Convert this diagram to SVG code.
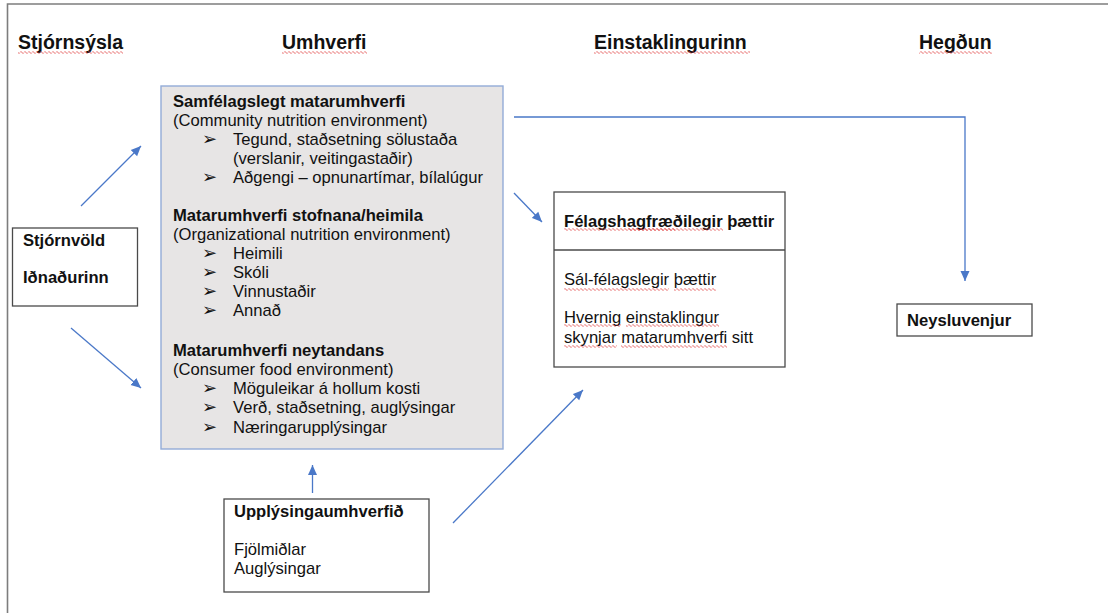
<svg xmlns="http://www.w3.org/2000/svg" width="1108" height="613" viewBox="0 0 1108 613">
<defs>
<style>
text{font-family:"Liberation Sans",Arial,Helvetica,sans-serif;fill:#111;}
.h{font-size:19.5px;font-weight:bold;}
.b{font-size:16.6px;font-weight:bold;}
.r{font-size:16.6px;}
.bl{font-family:"DejaVu Sans",sans-serif;font-size:18px;}
.box{fill:#fff;stroke:#4a4a4a;stroke-width:1.3;}
.gbox{fill:#e7e5e5;stroke:#93acd8;stroke-width:1.4;}
.con{fill:none;stroke:#4a78c8;stroke-width:1.3;}
.sp{fill:url(#wavy);}
</style>
<pattern id="wavy" patternUnits="userSpaceOnUse" width="4" height="3">
<path d="M0,1.5 L1,0.5 L3,2.5 L4,1.5" fill="none" stroke="#de3b3b" stroke-width="0.8"/>
</pattern>
<marker id="ah" markerUnits="userSpaceOnUse" markerWidth="12" markerHeight="10" refX="10" refY="5" orient="auto">
<path d="M0,0.5 L10,5 L0,9.5 Z" fill="#4a78c8"/>
</marker>
</defs>
<rect x="0" y="0" width="1108" height="613" fill="#fff"/>
<path d="M7.5,613 V4 H1108" fill="none" stroke="#7d7d7d" stroke-width="1.6"/>

<g id="headings">
<text class="h" x="18" y="49">Stjórnsýsla</text>
<rect class="sp" x="18" y="51" width="105" height="3"/>
<text class="h" x="282" y="49">Umhverfi</text>
<rect class="sp" x="282" y="51" width="85" height="3"/>
<text class="h" x="594" y="49">Einstaklingurinn</text>
<rect class="sp" x="594" y="51" width="156" height="3"/>
<text class="h" x="919" y="49">Hegðun</text>
<rect class="sp" x="919" y="51" width="73" height="3"/>
</g>

<g id="umhverfi">
<rect class="gbox" x="161" y="86" width="342" height="363"/>
<text class="b" x="173" y="107">Samfélagslegt matarumhverfi</text>
<text class="r" x="173" y="126">(Community nutrition environment)</text>
<text class="bl" x="202" y="145">➢</text><text class="r" x="233" y="145">Tegund, staðsetning sölustaða</text>
<text class="r" x="233" y="164">(verslanir, veitingastaðir)</text>
<text class="bl" x="202" y="183">➢</text><text class="r" x="233" y="183">Aðgengi – opnunartímar, bílalúgur</text>
<text class="b" x="173" y="221">Matarumhverfi stofnana/heimila</text>
<text class="r" x="173" y="240">(Organizational nutrition environment)</text>
<text class="bl" x="202" y="259">➢</text><text class="r" x="233" y="259">Heimili</text>
<text class="bl" x="202" y="278">➢</text><text class="r" x="233" y="278">Skóli</text>
<text class="bl" x="202" y="297">➢</text><text class="r" x="233" y="297">Vinnustaðir</text>
<text class="bl" x="202" y="316">➢</text><text class="r" x="233" y="316">Annað</text>
<text class="b" x="173" y="356">Matarumhverfi neytandans</text>
<text class="r" x="173" y="375">(Consumer food environment)</text>
<text class="bl" x="202" y="394">➢</text><text class="r" x="233" y="394">Möguleikar á hollum kosti</text>
<text class="bl" x="202" y="413">➢</text><text class="r" x="233" y="413">Verð, staðsetning, auglýsingar</text>
<text class="bl" x="202" y="433">➢</text><text class="r" x="233" y="433">Næringarupplýsingar</text>
</g>

<g id="stjornvold">
<rect class="box" x="12.5" y="228" width="125" height="78"/>
<text class="b" x="23" y="246">Stjórnvöld</text>
<text class="b" x="23" y="283">Iðnaðurinn</text>
</g>

<g id="upplysingaumhverfid">
<rect class="box" x="224" y="499" width="205" height="93"/>
<text class="b" x="234" y="517">Upplýsingaumhverfið</text>
<text class="r" x="234" y="555">Fjölmiðlar</text>
<text class="r" x="234" y="574">Auglýsingar</text>
</g>

<g id="felags">
<rect class="box" x="554" y="192" width="231" height="175"/>
<line x1="554" y1="250" x2="785" y2="250" stroke="#4a4a4a" stroke-width="1.3"/>
<text class="b" x="564" y="227">Félagshagfræðilegir þættir</text>
<rect class="sp" x="564" y="228" width="159" height="3"/>
<rect class="sp" x="628" y="228" width="47" height="3"/>
<text class="r" x="564" y="285">Sál-félagslegir þættir</text>
<rect class="sp" x="564" y="288" width="105" height="3"/>
<rect class="sp" x="674" y="288" width="42" height="3"/>
<text class="r" x="564" y="323">Hvernig einstaklingur</text>
<rect class="sp" x="564" y="324" width="57" height="3"/>
<rect class="sp" x="626" y="324" width="93" height="3"/>
<text class="r" x="564" y="343">skynjar matarumhverfi sitt</text>
<rect class="sp" x="564" y="345" width="53" height="3"/>
<rect class="sp" x="621" y="345" width="106" height="3"/>
</g>

<g id="neysluvenjur">
<rect class="box" x="897" y="304" width="135" height="32"/>
<text class="b" x="907" y="326">Neysluvenjur</text>
</g>

<g id="connectors">
<line class="con" x1="81" y1="206" x2="141" y2="146" marker-end="url(#ah)"/>
<line class="con" x1="71" y1="328" x2="141" y2="388" marker-end="url(#ah)"/>
<line class="con" x1="514" y1="193" x2="542" y2="222" marker-end="url(#ah)"/>
<path class="con" d="M514,117 H965 V281" marker-end="url(#ah)"/>
<line class="con" x1="312.5" y1="493" x2="312.5" y2="465" marker-end="url(#ah)"/>
<line class="con" x1="453" y1="523" x2="583" y2="390" marker-end="url(#ah)"/>
</g>
</svg>
